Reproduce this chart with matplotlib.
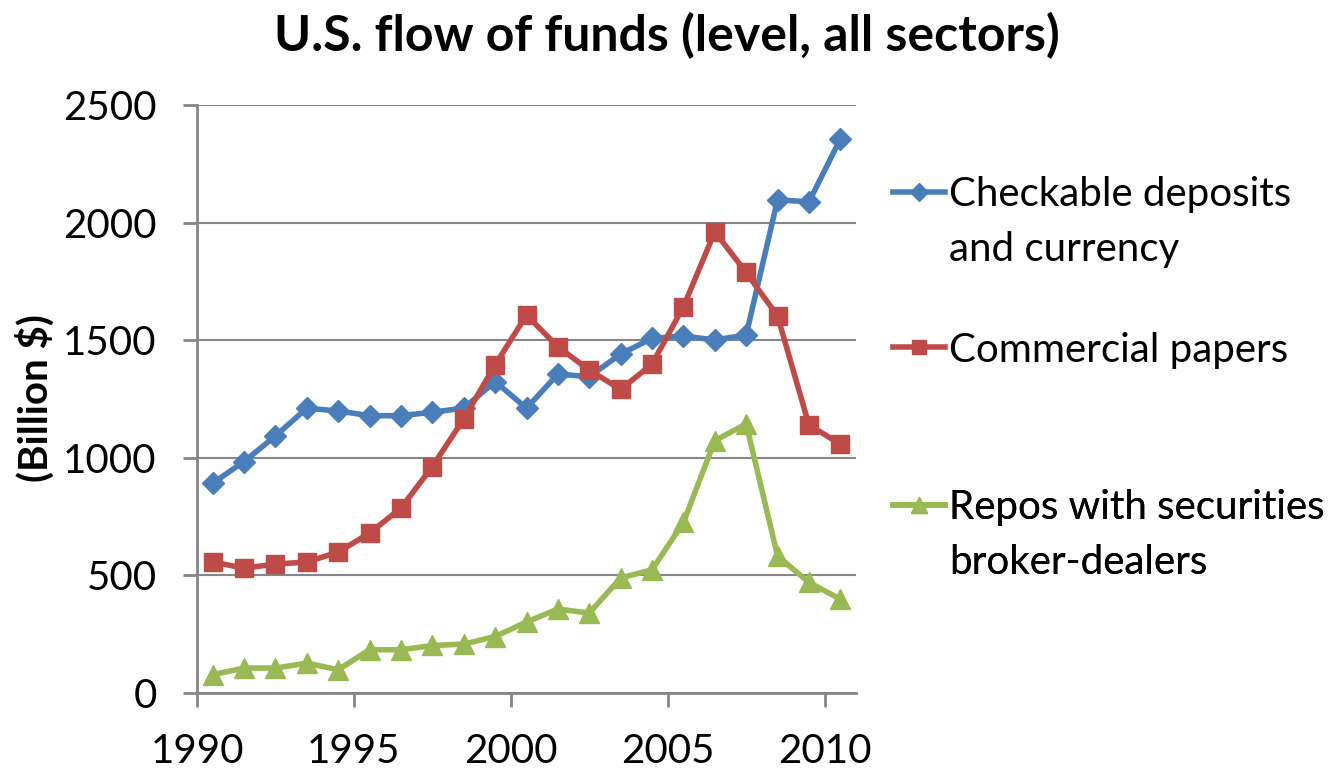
import numpy as np
import matplotlib
matplotlib.use("Agg")
import matplotlib.pyplot as plt
from matplotlib.lines import Line2D

plt.rcParams['font.family'] = ['Lato', 'DejaVu Sans']

# mid-year points, 1990 .. 2010
years = np.arange(1990, 2011) + 0.5

checkable = [892, 984, 1093, 1211, 1199, 1179, 1179, 1194, 1211, 1324, 1211,
             1356, 1345, 1441, 1508, 1518, 1501, 1522, 2097, 2088, 2355]
commercial = [557, 531, 548, 557, 599, 680, 786, 963, 1165, 1395, 1607,
              1472, 1373, 1291, 1398, 1642, 1961, 1788, 1603, 1140, 1058]
repos = [78, 106, 106, 127, 99, 184, 184, 202, 208, 240, 302,
         357, 340, 489, 524, 725, 1073, 1144, 583, 470, 399]

blue = '#4A7EBB'
red = '#BE4B48'
green = '#98B954'
grey = '#868686'

fig = plt.figure(figsize=(13.34, 7.68), dpi=100)
ax = fig.add_axes([197/1334, 1-693/768, (856-197)/1334, (693-105)/768])

l1, = ax.plot(years, checkable, color=blue, lw=4, marker='D', ms=11)
l2, = ax.plot(years, commercial, color=red, lw=4, marker='s', ms=13)
l3, = ax.plot(years, repos, color=green, lw=4, marker='^', ms=14)

ax.set_xlim(1990, 2011)
ax.set_ylim(0, 2500)
ax.set_xticks([1990, 1995, 2000, 2005, 2010])
ax.set_yticks([0, 500, 1000, 1500, 2000, 2500])
ax.yaxis.grid(True, color=grey, lw=1.5)
ax.set_axisbelow(True)
for s in ['top', 'right']:
    ax.spines[s].set_visible(False)
for s in ['left', 'bottom']:
    ax.spines[s].set_color(grey)
    ax.spines[s].set_linewidth(2)
ax.tick_params(direction='out', length=10, width=2, color=grey,
               labelsize=29)
ax.tick_params(axis='y', pad=19)
ax.tick_params(axis='x', pad=19)

fig.text(0.5, 1-36/768, 'U.S. flow of funds (level, all sectors)',
         ha='center', va='center', fontsize=36, fontweight='bold')
fig.text(35/1334, 1-398/768, '(Billion $)', rotation=90, ha='center',
         va='center', fontsize=29, fontweight='bold')

blank = Line2D([], [], color='none')
entries = [([l1, blank], ['Checkable deposits', 'and currency'], 222),
           ([l2], ['Commercial papers'], 350),
           ([l3, blank], ['Repos with securities', 'broker-dealers'], 535)]
for hs, labs, ypix in entries:
    leg = ax.legend(hs, labs, loc='center left',
                    bbox_to_anchor=(893/1334, 1-ypix/768),
                    bbox_transform=fig.transFigure, frameon=False,
                    fontsize=29, handlelength=1.3, handletextpad=0.1,
                    borderpad=0, borderaxespad=0, labelspacing=0.46,
                    markerscale=0.8)
    ax.add_artist(leg)

fig.savefig('out.png', dpi=100)
